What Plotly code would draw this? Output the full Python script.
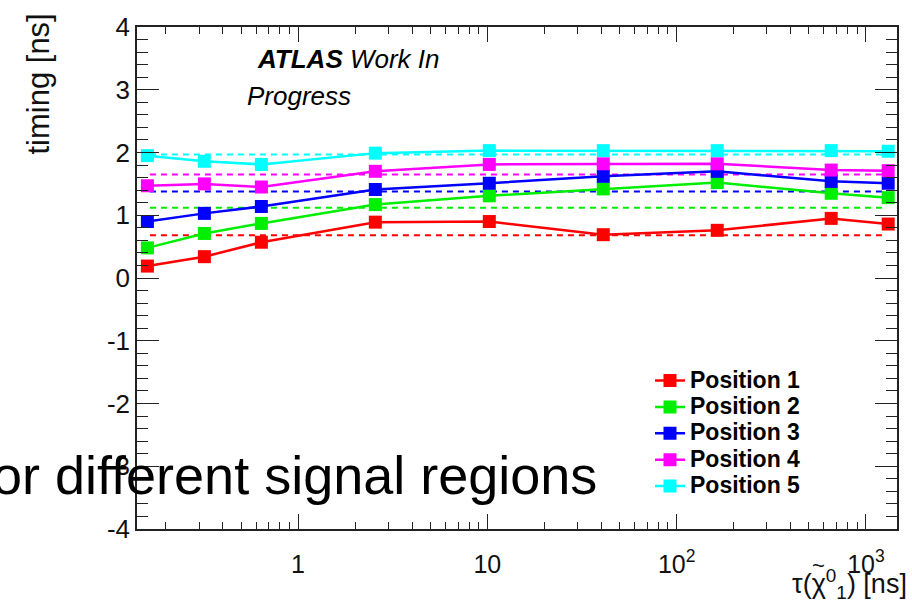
import numpy as np
import plotly.graph_objects as go

# ---- data ----
tau = [0.16, 0.32, 0.64, 2.56, 10.24, 40.96, 163.84, 655.36, 1310.72]
pos1 = [0.19, 0.34, 0.57, 0.89, 0.90, 0.69, 0.76, 0.95, 0.86]
pos2 = [0.48, 0.71, 0.87, 1.17, 1.31, 1.42, 1.52, 1.35, 1.28]
pos3 = [0.90, 1.03, 1.14, 1.41, 1.51, 1.62, 1.70, 1.54, 1.51]
pos4 = [1.47, 1.50, 1.45, 1.70, 1.81, 1.82, 1.82, 1.72, 1.71]
pos5 = [1.95, 1.86, 1.81, 1.99, 2.03, 2.03, 2.03, 2.03, 2.02]
means = [0.68, 1.12, 1.38, 1.65, 1.97]
mean_span = [0.165, 1230]
names = ["Position 1", "Position 2", "Position 3", "Position 4", "Position 5"]
colors = ["#ff0000", "#00ee00", "#0000ff", "#ff00ff", "#00ffff"]
xtickvals = [1, 10, 100, 1000]
xticktext = ["1", "10", "10<sup>2</sup>", "10<sup>3</sup>"]
ytickvals = [-4, -3, -2, -1, 0, 1, 2, 3, 4]
yticktext = ["-4", "-3", "-2", "-1", "0", "1", "2", "3", "4"]

series = [pos1, pos2, pos3, pos4, pos5]
FONT = "Liberation Sans, Arial, Helvetica, sans-serif"

W, H = 912, 605
L, R, T, B = 137, 15, 14, 76
pw, ph = W - L - R, H - T - B
def px(x):
    return (x - L) / pw
def py(y):
    return (H - B - y) / ph

fig = go.Figure()
for m, c in zip(means, colors):
    fig.add_trace(go.Scatter(x=mean_span, y=[m, m], mode="lines",
                             line=dict(color=c, width=2, dash="6px,5px"),
                             showlegend=False, hoverinfo="skip"))
for s, n, c in zip(series, names, colors):
    fig.add_trace(go.Scatter(x=tau, y=s, mode="lines+markers",
                             name='<span style="font-size:23px"><b>%s</b></span>' % n,
                             line=dict(color=c, width=2.5),
                             marker=dict(symbol="square", size=13, color=c)))

axcol = "#222"
fig.update_xaxes(type="log", range=[np.log10(0.141), np.log10(1459)],
                 tickvals=xtickvals, ticktext=xticktext,
                 ticks="inside", ticklen=15, tickwidth=1.2, tickcolor=axcol,
                 minor=dict(ticks="inside", ticklen=7, tickwidth=1.2, tickcolor=axcol, dtick="D1"),
                 showline=True, linecolor=axcol, linewidth=1.5, mirror="ticks",
                 showgrid=False, zeroline=False,
                 tickfont=dict(family=FONT, size=25, color="#111"),
                 ticklabelstandoff=12, ticklabeloverflow="allow")
fig.update_yaxes(range=[-4, 4], tickvals=ytickvals, ticktext=yticktext,
                 ticks="inside", ticklen=22, tickwidth=1.2, tickcolor=axcol,
                 minor=dict(ticks="inside", ticklen=11, tickwidth=1.2, tickcolor=axcol, dtick=0.2),
                 showline=True, linecolor=axcol, linewidth=1.5, mirror="ticks",
                 showgrid=False, zeroline=False,
                 tickfont=dict(family=FONT, size=26, color="#111"),
                 ticklabelstandoff=0, ticklabeloverflow="allow")

ann = [
    dict(text="<b><i>ATLAS</i></b><i> Work In</i>", x=px(255), y=py(47), xanchor="left", yanchor="middle",
         font=dict(family=FONT, size=26, color="black")),
    dict(text="<i>Progress</i>", x=px(245), y=py(85), xanchor="left", yanchor="middle",
         font=dict(family=FONT, size=26, color="black")),
    dict(text="timing [ns]", x=px(39), y=py(72), xanchor="center", yanchor="middle", textangle=-90,
         font=dict(family=FONT, size=31, color="#111")),
    dict(text="τ(χ<sup>0</sup><sub>1</sub>) [ns]", x=px(909), y=py(585), xanchor="right", yanchor="middle",
         font=dict(family=FONT, size=27, color="#111")),
    dict(text="~", x=px(818), y=py(566), xanchor="center", yanchor="middle",
         font=dict(family=FONT, size=22, color="#111")),
    dict(text="or different signal regions", x=px(599), y=py(474), xanchor="right", yanchor="middle",
         font=dict(family=FONT, size=54, color="black")),
]
for a in ann:
    a.update(xref="paper", yref="paper", showarrow=False)

fig.update_layout(width=W, height=H, margin=dict(l=L, r=R, t=T, b=B),
                  paper_bgcolor="white", plot_bgcolor="white",
                  font=dict(family=FONT),
                  annotations=ann,
                  legend=dict(x=px(650), y=py(358), xanchor="left", yanchor="top",
                              bgcolor="rgba(255,255,255,0)",
                              font=dict(family=FONT, size=18, color="black"),
                              itemwidth=30, tracegroupgap=0))
fig.write_html("out.html")
